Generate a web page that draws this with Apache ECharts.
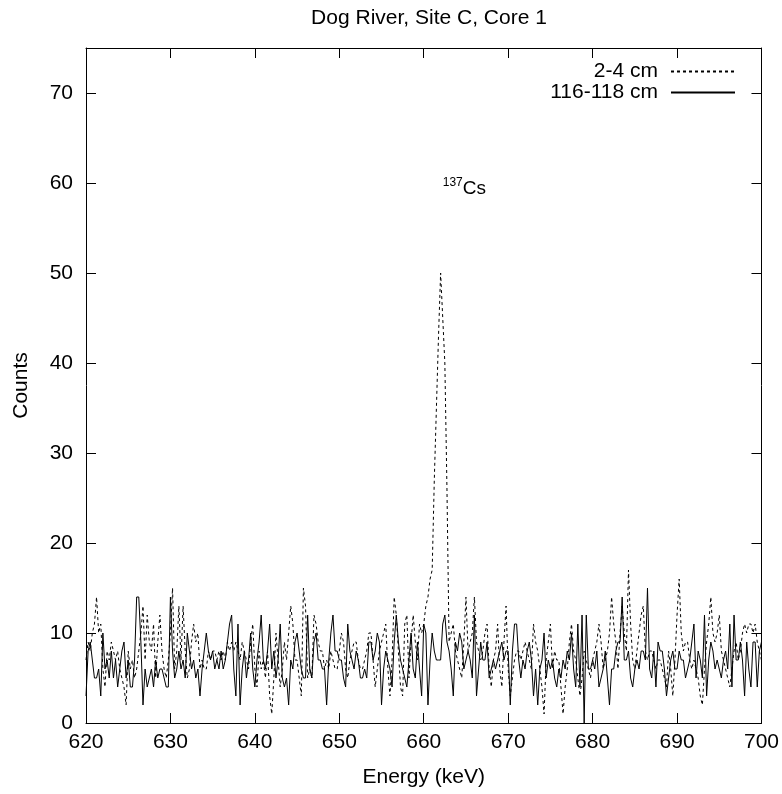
<!DOCTYPE html>
<html>
<head>
<meta charset="utf-8">
<script src="https://cdn.jsdelivr.net/npm/echarts@6/dist/echarts.min.js"></script>
<style>
html,body{margin:0;padding:0;background:#fff;}
#chart{width:782px;height:794px;}
</style>
</head>
<body>
<div id="chart"></div>
<script>
// Channel grid (keV)
const energyStart = 620;
const energyStep = 0.25;

// Counts, 2-4 cm (dashed)
const counts2to4 = [
7,9,8,10,11,14,10,11,6,4,
8,7,9,8,7,8,6,5,4,2,
8,6,7,5,6,8,10,13,7,12,
9,8,11,5,9,12,8,6,5,7,
10,15,6,8,13,7,13,8,5,6,
9,11,9,10,6,7,6,6,8,7,
8,8,7,8,7,8,7,9,8,9,
8,9,8,7,9,8,7,6,9,11,
6,4,8,6,7,5,8,3,1,5,
10,7,4,6,9,7,10,13,11,7,
7,5,3,15,13,5,6,5,12,11,
9,8,8,6,7,6,8,7,6,6,
8,10,9,6,5,7,8,9,9,7,
6,6,7,8,10,10,7,4,6,8,
9,10,11,6,3,7,14,12,8,4,
3,11,12,5,9,12,9,7,11,10,
11,13,14,16,17,27,35,43,50,45,
40,26,9,10,11,8,7,6,5,9,
14,8,9,10,14,9,8,7,8,10,
11,6,4,7,8,11,6,4,9,13,
6,3,5,7,8,8,7,8,9,8,
7,6,11,9,8,6,4,1,7,9,
11,6,8,7,7,4,1,4,6,9,
11,8,7,5,3,5,8,7,6,5,
7,8,9,11,9,6,7,8,10,14,
11,9,6,10,13,10,8,17,11,7,
6,8,10,12,13,8,7,8,8,7,
6,7,7,6,5,4,8,6,3,7,
12,16,10,8,9,9,7,6,7,6,
5,3,2,6,9,11,14,10,9,10,
12,8,7,6,5,4,6,8,9,7,
8,10,11,10,11,11,10,11,9,8,
7
];

// Counts, 116-118 cm (solid)
const counts116to118 = [
3,8,9,7,5,5,6,3,10,6,
7,5,8,5,7,4,6,8,9,5,
7,4,4,7,14,14,9,2,6,4,
5,6,4,7,5,6,6,5,4,4,
14,8,5,6,8,6,7,5,10,8,
6,7,5,6,3,6,8,10,8,7,
8,6,7,6,8,6,7,9,11,12,
6,3,11,2,6,8,5,7,10,6,
4,7,9,12,7,6,8,11,6,8,
5,7,11,5,4,5,2,7,6,9,
10,8,6,5,5,12,6,5,9,10,
7,7,6,6,2,7,10,12,8,8,
7,7,5,4,11,8,7,6,8,7,
5,5,6,5,9,9,7,8,10,9,
2,6,8,7,6,4,9,12,9,7,
6,5,4,7,10,6,5,9,6,3,
11,10,2,7,10,8,7,7,7,11,
12,9,8,6,3,9,8,10,9,6,
7,8,7,5,12,3,6,9,7,7,
9,5,6,7,6,7,8,9,7,8,
8,2,8,11,11,7,5,7,6,8,
9,7,3,6,2,6,7,10,5,7,
6,7,5,4,6,5,7,6,8,7,
10,6,4,11,4,12,0,12,6,6,
7,6,8,4,5,6,8,5,2,6,
6,8,9,9,14,7,7,8,5,4,
6,7,6,8,8,7,15,6,5,8,
4,9,8,8,6,3,5,7,8,6,
6,8,7,7,5,6,7,9,11,5,
8,7,5,12,3,7,9,8,6,7,
6,5,7,8,6,11,4,12,7,7,
9,7,3,9,6,4,9,9,4,8,
9
];

const seriesNames = ['2-4 cm', '116-118 cm'];
const xTicks = [620, 630, 640, 650, 660, 670, 680, 690, 700];
const yTicks = [0, 10, 20, 30, 40, 50, 60, 70];

function toPairs(arr) {
  return arr.map((v, i) => [energyStart + i * energyStep, v]);
}

const FONT = 'Liberation Sans, Arial, sans-serif';
const FS = 21;
const chart = echarts.init(document.getElementById('chart'), null, {renderer: 'canvas'});

const baseX = {
  type: 'value', min: xTicks[0], max: xTicks[xTicks.length - 1], interval: 10,
  axisLine: {show: true, onZero: false, lineStyle: {color: '#000', width: 1}},
  axisTick: {show: true, inside: true, length: 10, lineStyle: {color: '#000', width: 1}},
  splitLine: {show: false}
};
const baseY = {
  type: 'value', min: yTicks[0], max: 75, interval: 10,
  axisLine: {show: true, onZero: false, lineStyle: {color: '#000', width: 1}},
  axisTick: {show: true, inside: true, length: 10, lineStyle: {color: '#000', width: 1}},
  splitLine: {show: false}
};

const legendCommon = {
  right: 46, orient: 'vertical', align: 'right', padding: 0,
  itemWidth: 64, itemHeight: 14,
  itemStyle: {opacity: 0, color: 'rgba(0,0,0,0)', borderWidth: 0},
  textStyle: {fontFamily: FONT, fontSize: FS, color: '#000', padding: [0, 8, 0, 0]}
};

const option = {
  animation: false,
  backgroundColor: '#fff',
  textStyle: {fontFamily: FONT},
  title: {
    text: 'Dog River, Site C, Core 1', left: 424, top: 3, textAlign: 'center',
    textStyle: {fontFamily: FONT, fontSize: FS, fontWeight: 'normal', color: '#000'}
  },
  legend: [
    Object.assign({}, legendCommon, {data: [seriesNames[0]], top: 61}),
    Object.assign({}, legendCommon, {data: [seriesNames[1]], top: 82})
  ],
  grid: {left: 86, right: 20, top: 48, bottom: 71, containLabel: false},
  xAxis: [
    Object.assign({}, baseX, {
      position: 'bottom',
      name: 'Energy (keV)', nameLocation: 'middle', nameGap: 44,
      nameTextStyle: {fontFamily: FONT, fontSize: FS, color: '#000'},
      axisLabel: {show: true, margin: 9, color: '#000', fontFamily: FONT, fontSize: FS}
    }),
    Object.assign({}, baseX, {position: 'top', axisLabel: {show: false}})
  ],
  yAxis: [
    Object.assign({}, baseY, {
      position: 'left',
      name: 'Counts', nameLocation: 'middle', nameGap: 54, nameRotate: 90,
      nameTextStyle: {fontFamily: FONT, fontSize: FS, color: '#000'},
      axisLabel: {show: true, margin: 13, color: '#000', fontFamily: FONT, fontSize: FS, showMaxLabel: false}
    }),
    Object.assign({}, baseY, {position: 'right', axisLabel: {show: false}})
  ],
  series: [
    {
      name: seriesNames[0], type: 'line', xAxisIndex: 0, yAxisIndex: 0,
      data: toPairs(counts2to4), symbol: 'none', showSymbol: false,
      lineStyle: {color: '#000', width: 1, type: [3, 3]}, itemStyle: {color: '#000'}
    },
    {
      name: seriesNames[1], type: 'line', xAxisIndex: 0, yAxisIndex: 0,
      data: toPairs(counts116to118), symbol: 'none', showSymbol: false,
      lineStyle: {color: '#000', width: 1, type: 'solid'}, itemStyle: {color: '#000'}
    }
  ]
};
chart.setOption(option);

// 137Cs annotation anchored in data coordinates
const anchor = chart.convertToPixel({xAxisIndex: 0, yAxisIndex: 0}, [662.25, 59.4]);
chart.setOption({
  graphic: [{
    type: 'text', x: anchor[0], y: anchor[1], silent: true,
    style: {
      text: '{sup|137}{el|Cs}', textAlign: 'left', textVerticalAlign: 'middle',
      rich: {
        sup: {fontFamily: FONT, fontSize: 12, fill: '#000', color: '#000', padding: [0, 0, 11, 0]},
        el: {fontFamily: FONT, fontSize: 19, fill: '#000', color: '#000'}
      }
    }
  }]
});
</script>
</body>
</html>
